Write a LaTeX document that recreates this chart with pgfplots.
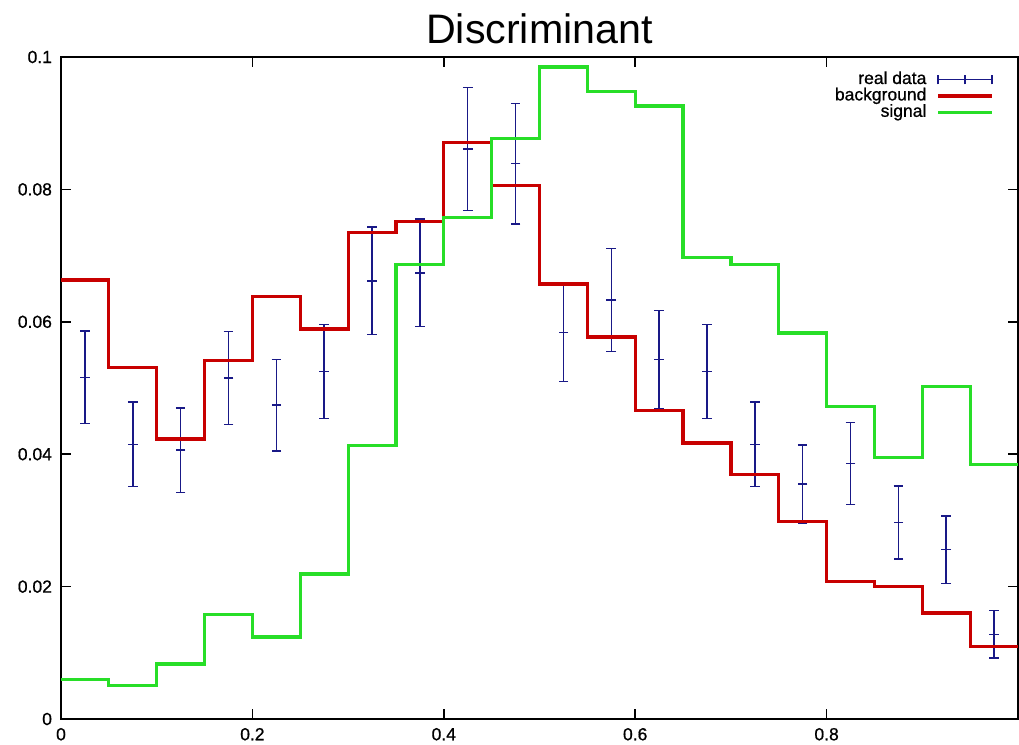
\documentclass[border=0pt]{standalone}
\usepackage{pgfplots}
\pgfplotsset{compat=1.18}
\usepackage{fontspec}
\setmainfont{Liberation Sans}
\newfontfamily\heavyfont[FakeBold=0.8]{Liberation Sans}
\definecolor{bgred}{RGB}{200,0,0}
\definecolor{siggreen}{RGB}{40,222,40}
\definecolor{datablue}{RGB}{25,25,135}
\begin{document}
\begin{tikzpicture}
\begin{axis}[
  scale only axis,
  width=478.5pt, height=331pt,
  xmin=0, xmax=1, ymin=0, ymax=0.1,
  xtick={0,0.2,0.4,0.6,0.8,1},
  xticklabels={0,0.2,0.4,0.6,0.8,},
  ytick={0,0.02,0.04,0.06,0.08,0.1},
  yticklabels={0,0.02,0.04,0.06,0.08,0.1},
  tick align=inside,
  major tick length=5pt,
  tick style={black, line width=0.8pt},
  axis line style={black, line width=0.9pt},
  ticklabel style={font=\heavyfont\fontsize{8.75}{10}\selectfont},
  xticklabel style={yshift=-1pt},
  yticklabel style={xshift=-1pt},
  title={Discriminant},
  title style={font=\fontsize{20.6}{24}\selectfont, yshift=-3pt},
  legend plot pos=right,
  legend cell align=right,
  legend style={draw=none, fill=none, at={(rel axis cs:1,1)}, anchor=north east,
    xshift=-9pt, yshift=-5pt,
    font=\heavyfont\fontsize{8.75}{10}\selectfont,
    nodes={inner sep=0pt, text height=6.3pt, text depth=1.9pt},
    row sep=0pt, column sep=5pt},
]
\addplot[datablue, only marks, forget plot, line width=0.75pt, mark=-, mark size=2.4pt,
  mark options={line width=0.75pt},
  error bars/.cd, y dir=both, y explicit, error mark=|,
  error mark options={mark size=2.4pt, line width=0.75pt, datablue},
  error bar style={line width=0.75pt, datablue}]
  coordinates {
  (0.025,0.0516) +- (0,0.0070)
  (0.075,0.0415) +- (0,0.0064)
  (0.125,0.0406) +- (0,0.0064)
  (0.175,0.0515) +- (0,0.0070)
  (0.225,0.0474) +- (0,0.0069)
  (0.275,0.0525) +- (0,0.0071)
  (0.325,0.0662) +- (0,0.0081)
  (0.375,0.0674) +- (0,0.0081)
  (0.425,0.0861) +- (0,0.0093)
  (0.475,0.0839) +- (0,0.0091)
  (0.525,0.0584) +- (0,0.0074)
  (0.575,0.0633) +- (0,0.0078)
  (0.625,0.0543) +- (0,0.0074)
  (0.675,0.0525) +- (0,0.0071)
  (0.725,0.0415) +- (0,0.0064)
  (0.775,0.0355) +- (0,0.0059)
  (0.825,0.0386) +- (0,0.0062)
  (0.875,0.0297) +- (0,0.0055)
  (0.925,0.0256) +- (0,0.0051)
  (0.975,0.0128) +- (0,0.0036)
  };
\addlegendimage{legend image code/.code={
  \draw[datablue, line width=0.75pt] (0pt,0pt) -- (27pt,0pt);
  \draw[datablue, line width=0.75pt] (0pt,-2.4pt) -- (0pt,2.4pt);
  \draw[datablue, line width=0.75pt] (13.5pt,-2.4pt) -- (13.5pt,2.4pt);
  \draw[datablue, line width=0.75pt] (27pt,-2.4pt) -- (27pt,2.4pt);}}
\addlegendentry{real data}
\addplot[bgred, line width=1.6pt, const plot, forget plot] coordinates {
  (0.00,0.0663) (0.05,0.0531) (0.10,0.0423) (0.15,0.0542) (0.20,0.0638)
  (0.25,0.0589) (0.30,0.0735) (0.35,0.0752) (0.40,0.0871) (0.45,0.0806)
  (0.50,0.0657) (0.55,0.0577) (0.60,0.0466) (0.65,0.0417) (0.70,0.0369)
  (0.75,0.0298) (0.80,0.0208) (0.85,0.0200) (0.90,0.0160) (0.95,0.0110)
  (1.00,0.0110)};
\addlegendimage{legend image code/.code={
  \draw[bgred, line width=1.6pt] (0pt,0pt) -- (27pt,0pt);}}
\addlegendentry{background}
\addplot[siggreen, line width=1.6pt, const plot, forget plot] coordinates {
  (0.00,0.0060) (0.05,0.0051) (0.10,0.0083) (0.15,0.0158) (0.20,0.0124)
  (0.25,0.0219) (0.30,0.0413) (0.35,0.0686) (0.40,0.0758) (0.45,0.0877)
  (0.50,0.0985) (0.55,0.0948) (0.60,0.0926) (0.65,0.0697) (0.70,0.0687)
  (0.75,0.0583) (0.80,0.0472) (0.85,0.0395) (0.90,0.0502) (0.95,0.0385)
  (1.00,0.0385)};
\addlegendimage{legend image code/.code={
  \draw[siggreen, line width=1.6pt] (0pt,0pt) -- (27pt,0pt);}}
\addlegendentry{signal}
\end{axis}
\pgfresetboundingbox
\path ([shift={(-30.5pt,-13pt)}]current axis.south west) rectangle ([shift={(0.5pt,28.5pt)}]current axis.north east);
\end{tikzpicture}
\end{document}
